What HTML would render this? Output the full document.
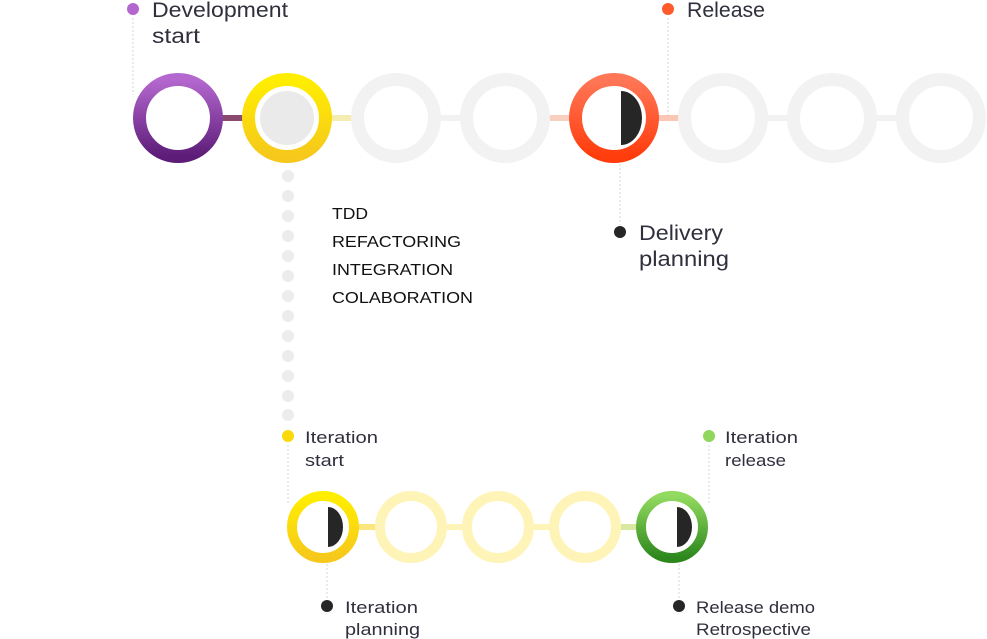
<!DOCTYPE html>
<html><head><style>
body{margin:0;background:#fff;}
svg{display:block}
text{font-family:"Liberation Sans",sans-serif;fill:#2f2f3d}
</style></head><body>
<svg width="987" height="639" viewBox="0 0 987 639">
<defs>
<linearGradient id="pu" x1="0" y1="0" x2="0" y2="1"><stop offset="0" stop-color="#b468cf"/><stop offset="1" stop-color="#5d1c78"/></linearGradient>
<linearGradient id="ye" x1="0" y1="0" x2="0" y2="1"><stop offset="0" stop-color="#ffee00"/><stop offset="1" stop-color="#f6c81c"/></linearGradient>
<linearGradient id="re" x1="0" y1="0" x2="0" y2="1"><stop offset="0" stop-color="#ff7757"/><stop offset="1" stop-color="#ff3c0c"/></linearGradient>
<linearGradient id="gr" x1="0" y1="0" x2="0" y2="1"><stop offset="0" stop-color="#92da60"/><stop offset="1" stop-color="#2c871c"/></linearGradient>
</defs>
<g stroke="#d6d6d6" stroke-dasharray="2,2" stroke-width="1">
<line x1="133" y1="18" x2="133" y2="95"/>
<line x1="668" y1="18" x2="668" y2="118"/>
<line x1="620" y1="160" x2="620" y2="225"/>
<line x1="288" y1="445" x2="288" y2="505"/>
<line x1="709" y1="445" x2="709" y2="505"/>
<line x1="327" y1="560" x2="327" y2="600"/>
<line x1="679" y1="560" x2="679" y2="600"/>
</g>
<g>
<rect x="215" y="115" width="40" height="6" fill="#8a4a70"/>
<rect x="324" y="115" width="40" height="6" fill="#f4ecb0"/>
<rect x="433" y="115" width="40" height="6" fill="#f2f2f2"/>
<rect x="542" y="115" width="40" height="6" fill="#f9cfc0"/>
<rect x="651" y="115" width="40" height="6" fill="#fbc7b4"/>
<rect x="760" y="115" width="40" height="6" fill="#f2f2f2"/>
<rect x="869" y="115" width="40" height="6" fill="#f2f2f2"/>
</g>
<g fill="none" stroke-width="13">
<circle cx="178" cy="118" r="38.5" stroke="url(#pu)"/>
<circle cx="287" cy="118" r="38.5" stroke="url(#ye)"/>
<circle cx="396" cy="118" r="38.5" stroke="#f2f2f2"/>
<circle cx="505" cy="118" r="38.5" stroke="#f2f2f2"/>
<circle cx="614" cy="118" r="38.5" stroke="url(#re)"/>
<circle cx="723" cy="118" r="38.5" stroke="#f2f2f2"/>
<circle cx="832" cy="118" r="38.5" stroke="#f2f2f2"/>
<circle cx="941" cy="118" r="38.5" stroke="#f2f2f2"/>
</g>
<circle cx="287" cy="118" r="27" fill="#eaeaea"/>
<path d="M621 91 A21 27 0 0 1 621 145 Z" fill="#262626"/>
<g fill="#ececec">
<circle cx="288" cy="176" r="6"/><circle cx="288" cy="196" r="6"/><circle cx="288" cy="216" r="6"/><circle cx="288" cy="236" r="6"/><circle cx="288" cy="256" r="6"/><circle cx="288" cy="276" r="6"/><circle cx="288" cy="296" r="6"/><circle cx="288" cy="316" r="6"/><circle cx="288" cy="336" r="6"/><circle cx="288" cy="356" r="6"/><circle cx="288" cy="376" r="6"/><circle cx="288" cy="396" r="6"/><circle cx="288" cy="415" r="6"/>
</g>
<g>
<rect x="355" y="524" width="30" height="6" fill="#fbe680"/>
<rect x="442" y="524" width="30" height="6" fill="#fff4b8"/>
<rect x="529" y="524" width="30" height="6" fill="#fff4b8"/>
<rect x="616" y="524" width="30" height="6" fill="#d8e8a0"/>
</g>
<g fill="none" stroke-width="10">
<circle cx="323" cy="527" r="31" stroke="url(#ye)"/>
<circle cx="411" cy="527" r="31" stroke="#fff4b8"/>
<circle cx="498" cy="527" r="31" stroke="#fff4b8"/>
<circle cx="585" cy="527" r="31" stroke="#fff4b8"/>
<circle cx="672" cy="527" r="31" stroke="url(#gr)"/>
</g>
<path d="M328 507 A15 20 0 0 1 328 547 Z" fill="#262626"/>
<path d="M677 507 A15 20 0 0 1 677 547 Z" fill="#262626"/>
<circle cx="133" cy="9" r="6" fill="#b466cf"/>
<text x="152" y="17" font-size="21" textLength="136" lengthAdjust="spacingAndGlyphs">Development</text>
<text x="152" y="43" font-size="21" textLength="48" lengthAdjust="spacingAndGlyphs">start</text>
<circle cx="668" cy="9" r="6" fill="#ff5a2c"/>
<text x="687" y="17" font-size="21" textLength="78" lengthAdjust="spacingAndGlyphs">Release</text>
<circle cx="620" cy="232" r="6" fill="#262626"/>
<text x="639" y="240" font-size="21" textLength="84" lengthAdjust="spacingAndGlyphs">Delivery</text>
<text x="639" y="266" font-size="21" textLength="90" lengthAdjust="spacingAndGlyphs">planning</text>
<text x="332" y="219" font-size="16" style="fill:#111" textLength="36" lengthAdjust="spacingAndGlyphs">TDD</text>
<text x="332" y="247" font-size="16" style="fill:#111" textLength="129" lengthAdjust="spacingAndGlyphs">REFACTORING</text>
<text x="332" y="275" font-size="16" style="fill:#111" textLength="121" lengthAdjust="spacingAndGlyphs">INTEGRATION</text>
<text x="332" y="303" font-size="16" style="fill:#111" textLength="141" lengthAdjust="spacingAndGlyphs">COLABORATION</text>
<circle cx="288" cy="436" r="6" fill="#fbd80a"/>
<text x="305" y="443" font-size="17" textLength="73" lengthAdjust="spacingAndGlyphs">Iteration</text>
<text x="305" y="466" font-size="17" textLength="39" lengthAdjust="spacingAndGlyphs">start</text>
<circle cx="709" cy="436" r="6" fill="#8fd65c"/>
<text x="725" y="443" font-size="17" textLength="73" lengthAdjust="spacingAndGlyphs">Iteration</text>
<text x="725" y="466" font-size="17" textLength="61" lengthAdjust="spacingAndGlyphs">release</text>
<circle cx="327" cy="606" r="6" fill="#262626"/>
<text x="345" y="613" font-size="17" textLength="73" lengthAdjust="spacingAndGlyphs">Iteration</text>
<text x="345" y="635" font-size="17" textLength="75" lengthAdjust="spacingAndGlyphs">planning</text>
<circle cx="679" cy="606" r="6" fill="#262626"/>
<text x="696" y="613" font-size="17" textLength="119" lengthAdjust="spacingAndGlyphs">Release demo</text>
<text x="696" y="635" font-size="17" textLength="115" lengthAdjust="spacingAndGlyphs">Retrospective</text>
</svg>
</body></html>
